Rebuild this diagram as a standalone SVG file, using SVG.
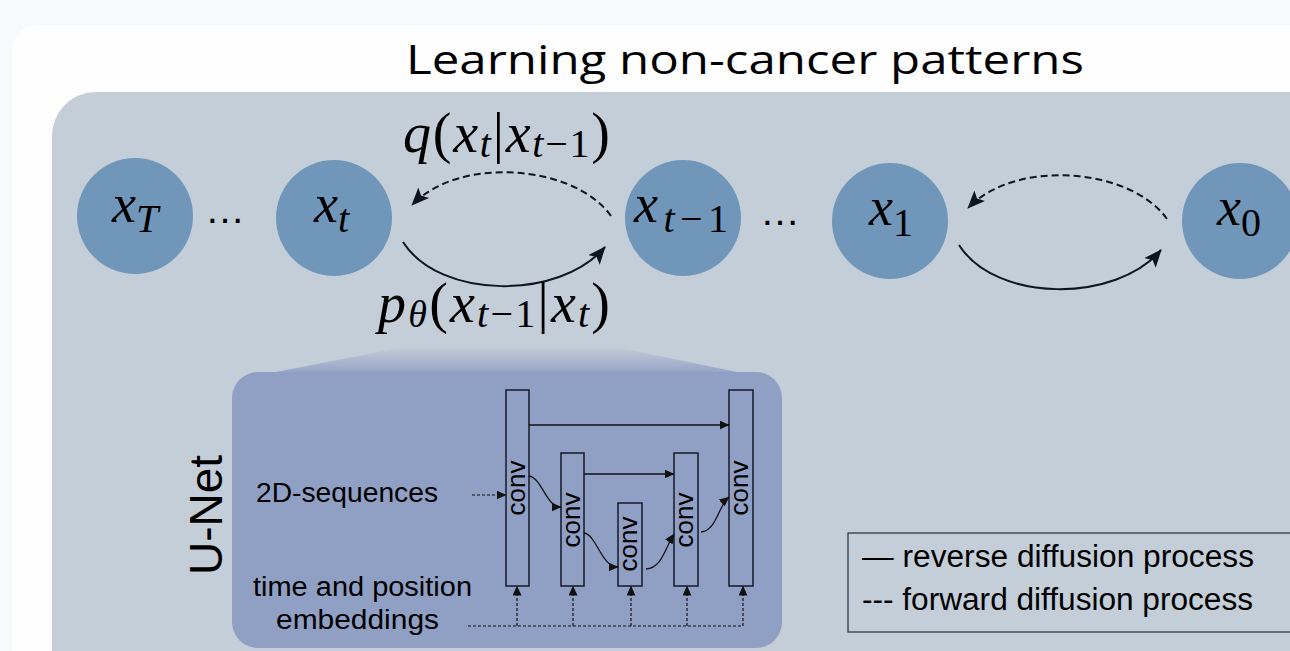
<svg xmlns="http://www.w3.org/2000/svg" width="1290" height="651" viewBox="0 0 1290 651">
<defs>
<marker id="ah" markerWidth="18" markerHeight="15" refX="17" refY="7.5" orient="auto" markerUnits="userSpaceOnUse">
<path d="M0,0 L18,7.5 L0,15 L4,7.5 z" fill="#0d1520"/>
</marker>
<marker id="sa" markerWidth="10" markerHeight="9" refX="9.5" refY="4.5" orient="auto" markerUnits="userSpaceOnUse">
<path d="M0,0 L10,4.5 L0,9 z" fill="#111"/>
</marker>
<linearGradient id="fan" x1="0" y1="0" x2="0" y2="1">
<stop offset="0" stop-color="#c3ced9"/>
<stop offset="1" stop-color="#909fc4"/>
</linearGradient>
<style>
.node{fill:#7096b9}
.math{font-family:"Liberation Serif","Times New Roman",serif;font-style:italic;fill:#000}
.up{font-style:normal}
.dots{font-family:"Liberation Sans",sans-serif;font-size:40px;fill:#000}
.sans{font-family:"Liberation Sans",Arial,sans-serif;fill:#000}
.fw{fill:none;stroke:#0d1520;stroke-width:2}
.dash{stroke-dasharray:7 4}
.blk{fill:none;stroke:#141a28;stroke-width:1.5}
.ln{fill:none;stroke:#111;stroke-width:1.3}
.dl{fill:none;stroke:#111;stroke-width:1.2;stroke-dasharray:3 2}
</style>
</defs>
<rect x="0" y="0" width="1290" height="651" fill="#f8f9fa"/>
<rect x="12" y="25" width="1320" height="660" rx="26" fill="#fefefe"/>
<rect x="52" y="92" width="1300" height="620" rx="44" fill="#c3ced9"/>
<text x="745" y="74" text-anchor="middle" font-family="'Open Sans',sans-serif" font-size="40" textLength="678" lengthAdjust="spacingAndGlyphs" fill="#000">Learning non-cancer patterns</text>

<g id="node-xT">
<ellipse class="node" cx="135" cy="216" rx="58" ry="58"/>
<text class="math" x="112" y="222" font-size="54">x<tspan font-size="40" dy="10">T</tspan></text>
</g>
<text class="dots" x="205" y="223">…</text>
<g id="node-xt">
<ellipse class="node" cx="334" cy="218" rx="58" ry="58"/>
<text class="math" x="314" y="222" font-size="54">x<tspan font-size="40" dy="10">t</tspan></text>
</g>
<g id="node-xt1">
<ellipse class="node" cx="683" cy="218" rx="58" ry="58"/>
<text class="math" x="634" y="222" font-size="54" textLength="94" lengthAdjust="spacing">x<tspan font-size="40" dy="10">t</tspan><tspan class="up" font-size="40">−1</tspan></text>
</g>
<text class="dots" x="760" y="225">…</text>
<g id="node-x1">
<ellipse class="node" cx="890" cy="221" rx="58" ry="58"/>
<text class="math" x="869" y="225" font-size="54">x<tspan class="up" font-size="40" dy="11">1</tspan></text>
</g>
<g id="node-x0">
<ellipse class="node" cx="1240" cy="221" rx="58" ry="58"/>
<text class="math" x="1217" y="225" font-size="54">x<tspan class="up" font-size="40" dy="11">0</tspan></text>
</g>

<g id="connectors">
<path class="fw dash" d="M611,216 C575,165 460,155 412,205" marker-end="url(#ah)"/>
<path class="fw" d="M403,242 C440,300 560,300 605,247" marker-end="url(#ah)"/>
<path class="fw dash" d="M1167,219 C1131,168 1016,158 968,208" marker-end="url(#ah)"/>
<path class="fw" d="M959,245 C996,303 1116,303 1161,250" marker-end="url(#ah)"/>
</g>
<text class="math" x="403" y="152" font-size="56" textLength="207" lengthAdjust="spacing">q<tspan class="up">(</tspan>x<tspan font-size="40" dy="5">t</tspan><tspan class="up" dy="-5">|</tspan>x<tspan font-size="40" dy="5">t</tspan><tspan class="up" font-size="40">−1</tspan><tspan class="up" dy="-5">)</tspan></text>
<text class="math" x="378" y="322" font-size="56" textLength="232" lengthAdjust="spacing">p<tspan font-size="38" dy="5">θ</tspan><tspan class="up" dy="-5">(</tspan>x<tspan font-size="40" dy="5">t</tspan><tspan class="up" font-size="40">−1</tspan><tspan class="up" dy="-5">|</tspan>x<tspan font-size="40" dy="5">t</tspan><tspan class="up" dy="-5">)</tspan></text>

<g id="unet">
<polygon points="410,346 610,346 757,376 255,376" fill="url(#fan)"/>
<rect x="232" y="372" width="550" height="276" rx="26" fill="#909fc4"/>
<text class="sans" transform="translate(222,515) rotate(-90)" text-anchor="middle" font-size="46">U-Net</text>
<text class="sans" x="256" y="502" font-size="27" textLength="182" lengthAdjust="spacingAndGlyphs">2D-sequences</text>
<text class="sans" x="253" y="596" font-size="27" textLength="219" lengthAdjust="spacingAndGlyphs">time and position</text>
<text class="sans" x="276" y="629" font-size="27" textLength="163" lengthAdjust="spacingAndGlyphs">embeddings</text>
<g id="conv1"><rect class="blk" x="506" y="390" width="23" height="196"/><text class="sans" transform="translate(525,488) rotate(-90)" text-anchor="middle" font-size="26">conv</text></g>
<g id="conv2"><rect class="blk" x="561" y="453" width="23" height="133"/><text class="sans" transform="translate(580,520) rotate(-90)" text-anchor="middle" font-size="26">conv</text></g>
<g id="conv3"><rect class="blk" x="618" y="503" width="24" height="83"/><text class="sans" transform="translate(637,544) rotate(-90)" text-anchor="middle" font-size="26">conv</text></g>
<g id="conv4"><rect class="blk" x="674" y="453" width="24" height="133"/><text class="sans" transform="translate(693,520) rotate(-90)" text-anchor="middle" font-size="26">conv</text></g>
<g id="conv5"><rect class="blk" x="729" y="390" width="24" height="196"/><text class="sans" transform="translate(748,488) rotate(-90)" text-anchor="middle" font-size="26">conv</text></g>
<g id="unet-connectors">
<path class="ln" d="M529,425 L729,425" marker-end="url(#sa)"/>
<path class="ln" d="M584,474 L674,474" marker-end="url(#sa)"/>
<path class="ln" d="M529,476 C542,478 546,507 561,507" marker-end="url(#sa)"/>
<path class="ln" d="M584,533 C597,535 601,567 618,567" marker-end="url(#sa)"/>
<path class="ln" d="M646,569 C662,568 665,548 674,534" marker-end="url(#sa)"/>
<path class="ln" d="M701,532 C717,530 718,506 729,497" marker-end="url(#sa)"/>
<path class="dl" d="M472,495 L506,495" marker-end="url(#sa)"/>
<path class="dl" d="M468,626 L743,626"/>
<path class="dl" d="M517,626 L517,586" marker-end="url(#sa)"/>
<path class="dl" d="M573,626 L573,586" marker-end="url(#sa)"/>
<path class="dl" d="M631,626 L631,586" marker-end="url(#sa)"/>
<path class="dl" d="M687,626 L687,586" marker-end="url(#sa)"/>
<path class="dl" d="M743,626 L743,586" marker-end="url(#sa)"/>
</g>
</g>

<g id="legend">
<rect x="848" y="533" width="460" height="99" fill="none" stroke="#2b3b4b" stroke-width="1.3"/>
<text class="sans" x="862" y="567" font-size="31" textLength="392" lengthAdjust="spacingAndGlyphs">— reverse diffusion process</text>
<text class="sans" x="862" y="610" font-size="31" textLength="391" lengthAdjust="spacingAndGlyphs">--- forward diffusion process</text>
</g>
</svg>
